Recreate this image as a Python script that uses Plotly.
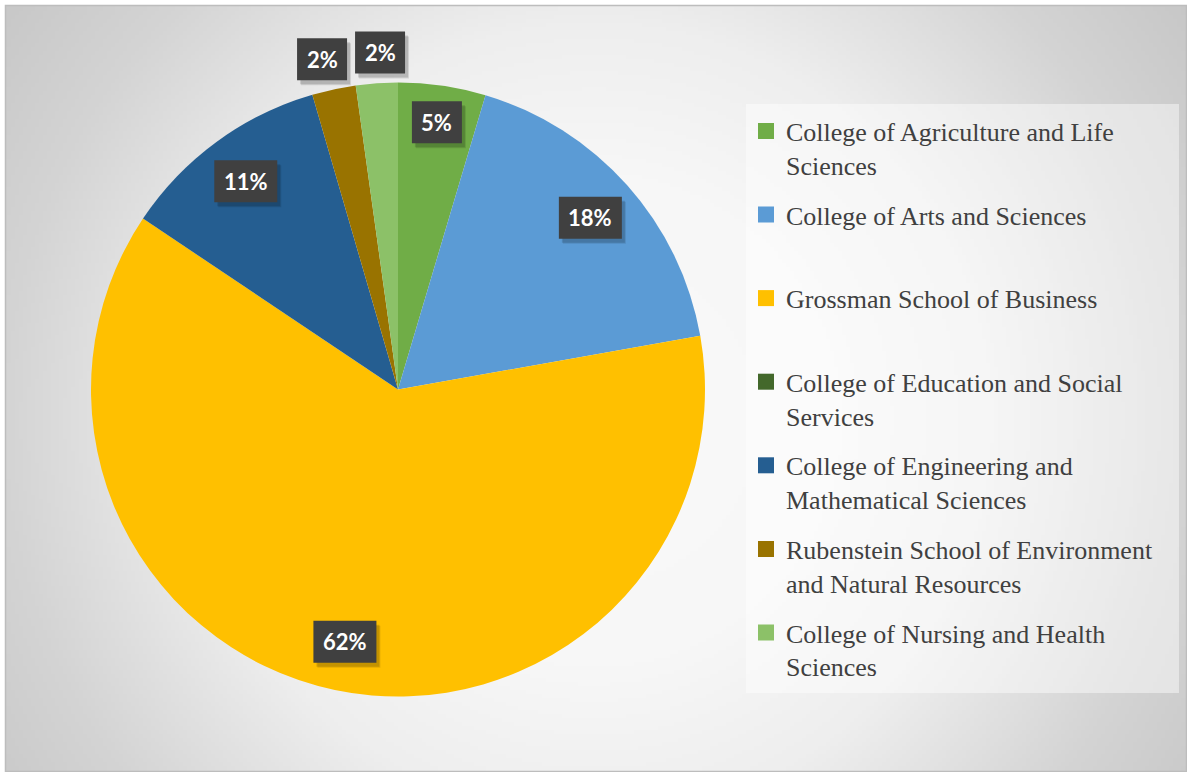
import base64
import struct
import zlib

import numpy as np
import plotly.graph_objects as go

# ---------------- data ----------------
categories = [
    "College of Agriculture and Life Sciences",
    "College of Arts and Sciences",
    "Grossman School of Business",
    "College of Education and Social Services",
    "College of Engineering and Mathematical Sciences",
    "Rubenstein School of Environment and Natural Resources",
    "College of Nursing and Health Sciences",
]
legend_labels = [
    "College of Agriculture and Life<br>Sciences",
    "College of Arts and Sciences<br> ",
    "Grossman School of Business<br> ",
    "College of Education and Social<br>Services",
    "College of Engineering and<br>Mathematical Sciences",
    "Rubenstein School of Environment<br>and Natural Resources",
    "College of Nursing and Health<br>Sciences",
]
shares = [4.6, 17.6, 62.2, 0.0, 11.1, 2.3, 2.2]
colors = ["#70AD47", "#5B9BD5", "#FFC000", "#43682B", "#255E91", "#997300", "#8CC168"]

# ---------------- geometry / style ----------------
W, H = 1187, 772
CX, CY, R = 398.0, 389.5, 307.0  # pie centre & radius in pixels
SERIF = "'Liberation Serif', 'Times New Roman', 'DejaVu Serif', serif"


def px_x(x):
    return x / W


def px_y(y):
    return 1 - y / H


# background radial gradient image (style only)
def gradient_png():
    gw, gh = 296, 192
    xs = 5 + (np.arange(gw) + 0.5) * (W - 5) / gw
    ys = 5 + (np.arange(gh) + 0.5) * (H - 5) / gh
    X, Y = np.meshgrid(xs, ys)
    d = np.hypot(X - 594, Y - 420)
    v = np.interp(d, [0, 250, 400, 590, 740], [250, 247, 238, 212, 198])
    arr = np.clip(v, 0, 255).astype(np.uint8)
    raw = b"".join(b"\x00" + arr[j].tobytes() for j in range(gh))

    def chunk(t, data):
        c = struct.pack(">I", len(data)) + t + data
        return c + struct.pack(">I", zlib.crc32(t + data) & 0xFFFFFFFF)

    png = (b"\x89PNG\r\n\x1a\n"
           + chunk(b"IHDR", struct.pack(">IIBBBBB", gw, gh, 8, 0, 0, 0, 0))
           + chunk(b"IDAT", zlib.compress(raw, 9))
           + chunk(b"IEND", b""))
    return "data:image/png;base64," + base64.b64encode(png).decode()


fig = go.Figure()

fig.add_trace(go.Pie(
    labels=categories,
    values=shares,
    marker=dict(colors=colors, line=dict(width=0)),
    sort=False,
    direction="clockwise",
    rotation=0,
    textinfo="none",
    showlegend=False,
    hoverinfo="label+percent",
    domain=dict(x=[px_x(CX - R), px_x(CX + R)], y=[px_y(CY + R), px_y(CY - R)]),
))

# legend entries
for lab, col in zip(legend_labels, colors):
    fig.add_trace(go.Scatter(
        x=[None], y=[None], mode="markers",
        marker=dict(symbol="square", size=16, color=col),
        name=lab, legendgroup=lab, showlegend=True, hoverinfo="skip",
    ))

# data labels (boxes) positioned from the data values
total = sum(shares)
label_items = []
cum = 0.0
for s in shares:
    if s > 0:
        frac = s / total
        mid = (cum + s / 2) / total * 2 * np.pi
        f = 1.1 if frac < 0.03 else (0.88 if frac < 0.08 else 0.84)
        x = CX + f * R * np.sin(mid)
        y = CY - f * R * np.cos(mid)
        label_items.append(dict(x=x, y=y, text=f"{round(frac * 100)}%", outside=frac < 0.03))
    cum += s

# separate outside labels that would overlap
outs = sorted([l for l in label_items if l["outside"]], key=lambda l: l["x"])
min_sep = 58
for a, b in zip(outs, outs[1:]):
    gap = b["x"] - a["x"]
    if gap < min_sep:
        shift = (min_sep - gap) / 2
        a["x"] -= shift
        b["x"] += shift

shapes = [
    # legend panel
    dict(type="rect", xref="paper", yref="paper", layer="below",
         x0=px_x(746), x1=px_x(1179), y0=px_y(693), y1=px_y(104),
         fillcolor="rgba(255,255,255,0.45)", line=dict(width=0)),
    # chart frame
    dict(type="rect", xref="paper", yref="paper", layer="below",
         x0=px_x(5.5), x1=px_x(1186.5), y0=px_y(771.5), y1=px_y(5.5),
         fillcolor="rgba(0,0,0,0)", line=dict(color="#bdbdbd", width=1.5)),
]

annotations = []
for l in label_items:
    bw = 50 if len(l["text"]) <= 2 else 63
    bh = 42
    # soft drop shadow, then dark label box
    for dx, dy, col in [(4, 5, "rgba(0,0,0,0.10)"), (3, 4, "rgba(0,0,0,0.14)")]:
        shapes.append(dict(type="rect", xref="paper", yref="paper", layer="above",
                           x0=px_x(l["x"] - bw / 2 + dx), x1=px_x(l["x"] + bw / 2 + dx),
                           y0=px_y(l["y"] + bh / 2 + dy), y1=px_y(l["y"] - bh / 2 + dy),
                           fillcolor=col, line=dict(width=0)))
    shapes.append(dict(type="rect", xref="paper", yref="paper", layer="above",
                       x0=px_x(l["x"] - bw / 2), x1=px_x(l["x"] + bw / 2),
                       y0=px_y(l["y"] + bh / 2), y1=px_y(l["y"] - bh / 2),
                       fillcolor="#404040", line=dict(width=0)))
    annotations.append(dict(
        text=l["text"], x=px_x(l["x"]), y=px_y(l["y"]), xref="paper", yref="paper",
        xanchor="center", yanchor="middle", showarrow=False,
        font=dict(family="Lato", size=22, color="white", weight="bold"),
    ))

fig.update_layout(
    width=W, height=H,
    margin=dict(l=0, r=0, t=0, b=0),
    paper_bgcolor="white",
    plot_bgcolor="rgba(0,0,0,0)",
    xaxis=dict(visible=False),
    yaxis=dict(visible=False),
    images=[dict(source=gradient_png(), xref="paper", yref="paper",
                 x=px_x(5), y=px_y(5), sizex=(W - 5) / W, sizey=(H - 5) / H,
                 xanchor="left", yanchor="top", sizing="stretch", layer="below")],
    shapes=shapes,
    annotations=annotations,
    legend=dict(
        x=px_x(746), y=px_y(107.5), xanchor="left", yanchor="top",
        bgcolor="rgba(0,0,0,0)", borderwidth=0,
        font=dict(family=SERIF, size=26, color="#404040"),
        tracegroupgap=13, valign="top", traceorder="grouped",
    ),
)

fig.write_html("out.html")
